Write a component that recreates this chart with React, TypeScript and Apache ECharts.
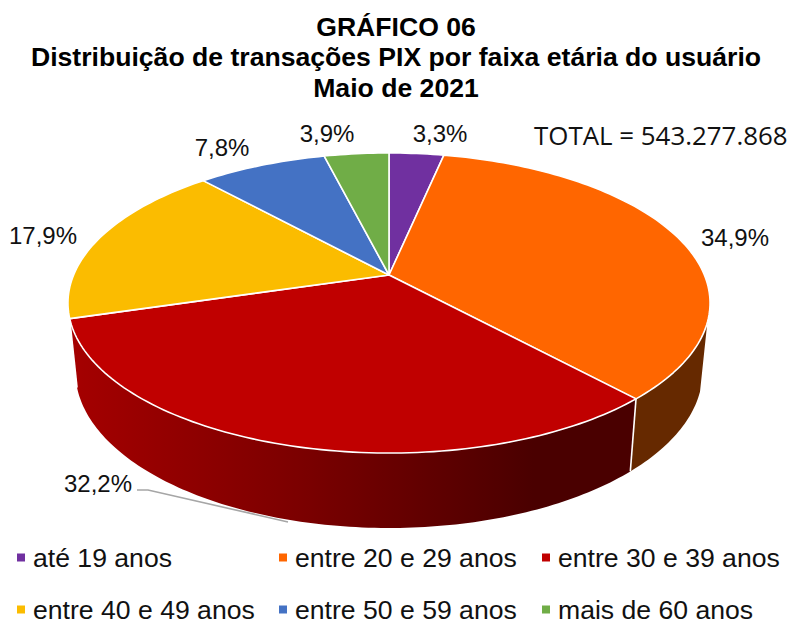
import React, { useEffect, useRef } from "react";
import * as echarts from "echarts";

const categories = ["até 19 anos", "entre 20 e 29 anos", "entre 30 e 39 anos", "entre 40 e 49 anos", "entre 50 e 59 anos", "mais de 60 anos"];
const shares = [3.3, 34.9, 32.2, 17.9, 7.8, 3.9];
const titleLines = ["GRÁFICO 06", "Distribuição de transações PIX por faixa etária do usuário", "Maio de 2021"];
const totalLabel = "TOTAL = 543.277.868";
const topColors = ["#7030A0", "#FF6600", "#C00000", "#FBBC00", "#4472C4", "#70AD47"];
const labelAnchors = [[440, 133], [735, 237], [98, 483], [43, 235], [222, 147], [327, 133]];

// Perspective model of the pie's top face
const CX = 389, CY = 275, RX = 315.4, RY = 144.8, P = 0.1867;
const WALL_FROM = (108 * Math.PI) / 180;
const WALL_TO = (253.5 * Math.PI) / 180;

const project = (t: number) => {
  const u = Math.sin(t), v = -Math.cos(t), w = 1 - P * v;
  return [CX + (RX * u) / w, CY + (RY * v) / w];
};
const lower = (p: number[]) => [CX + (p[0] - CX) * 0.977, p[1] + 69 + (p[1] - 318) * 0.044];

const wallFills: any[] = [
  "#5a2400",
  "#662900",
  new echarts.graphic.LinearGradient(0, 0, 1, 0, [
    { offset: 0, color: "#A50000" },
    { offset: 0.4, color: "#7C0000" },
    { offset: 0.82, color: "#4A0000" },
    { offset: 1, color: "#4A0000" },
  ]),
  "#7a5c00", "#22396a", "#385723",
];

const renderSlice = (index: number) => (_params: any, api: any) => {
  const value = api.value(0) as number;
  const start = api.value(1) as number;
  const a0 = (start / 100) * 2 * Math.PI;
  const a1 = ((start + value) / 100) * 2 * Math.PI;
  const children: any[] = [];
  const arc: number[][] = [];
  const steps = Math.max(4, Math.ceil(value * 3));
  for (let i = 0; i <= steps; i++) arc.push(project(a0 + ((a1 - a0) * i) / steps));
  children.push({
    type: "polygon",
    z2: 20,
    shape: { points: [[CX, CY], ...arc] },
    style: { fill: topColors[index], stroke: "#FFFFFF", lineWidth: 1.6, lineJoin: "round" },
  });
  const b0 = Math.max(a0, WALL_FROM), b1 = Math.min(a1, WALL_TO);
  if (b1 > b0) {
    const top: number[][] = [];
    const n = Math.ceil((b1 - b0) * 60);
    for (let i = 0; i <= n; i++) top.push(project(b0 + ((b1 - b0) * i) / n));
    const bottom = top.map(lower).reverse();
    children.push({ type: "polygon", z2: 5, shape: { points: [...top, ...bottom] }, style: { fill: wallFills[index] } });
    if (a0 > WALL_FROM) {
      const p = project(a0), q = lower(p);
      children.push({ type: "line", z2: 10, shape: { x1: p[0], y1: p[1], x2: q[0], y2: q[1] }, style: { stroke: "#FFFFFF", lineWidth: 1.6 } });
    }
  }
  return { type: "group", children };
};

const labelFont = { fontFamily: "Liberation Sans", fontSize: 24, fill: "#111111" };

export default function App() {
  const ref = useRef<HTMLDivElement>(null);
  useEffect(() => {
    const chart = echarts.init(ref.current!, undefined, { renderer: "svg" });
    let acc = 0;
    const series = categories.map((name, i) => {
      const row = [shares[i], acc];
      acc += shares[i];
      return {
        type: "custom",
        name,
        coordinateSystem: "none",
        silent: true,
        itemStyle: { color: topColors[i] },
        renderItem: renderSlice(i),
        data: [row],
      };
    });
    const legendBase = {
      orient: "vertical",
      icon: "rect",
      itemWidth: 8,
      itemHeight: 8,
      itemGap: 25,
      selectedMode: false,
      top: 544,
      height: 100,
      textStyle: { fontFamily: "Liberation Sans", fontSize: 26.6, color: "#111111", lineHeight: 24, padding: [0, 0, 0, 3] },
      itemStyle: { borderWidth: 0 },
      padding: 0,
    };
    chart.setOption({
      animation: false,
      backgroundColor: "#FFFFFF",
      title: {
        text: titleLines.join("\n"),
        left: 391,
        top: 6.5,
        textAlign: "center",
        textStyle: { fontFamily: "Liberation Sans", fontSize: 26.6, fontWeight: "bold", color: "#000000", lineHeight: 30.5 },
      },
      legend: [
        { ...legendBase, left: 17, data: [categories[0], categories[3]] },
        { ...legendBase, left: 279, data: [categories[1], categories[4]] },
        { ...legendBase, left: 542, data: [categories[2], categories[5]] },
      ],
      graphic: [
        ...shares.map((s, i) => ({
          type: "text",
          x: labelAnchors[i][0],
          y: labelAnchors[i][1],
          style: { ...labelFont, text: `${s.toFixed(1).replace(".", ",")}%`, align: "center", verticalAlign: "middle" },
        })),
        {
          type: "text",
          x: 534,
          y: 134.5,
          style: { fontFamily: "Open Sans", fontSize: 25.9, fill: "#111111", text: totalLabel, align: "left", verticalAlign: "middle" },
        },
        {
          type: "polyline",
          shape: { points: [[137, 490], [148, 490], [288, 522]] },
          style: { stroke: "#A6A6A6", lineWidth: 1.6, fill: "none" },
        },
      ],
      series,
    } as any);
    return () => chart.dispose();
  }, []);
  return <div ref={ref} style={{ position: "absolute", left: 0, top: 0, width: 790, height: 621 }} />;
}
